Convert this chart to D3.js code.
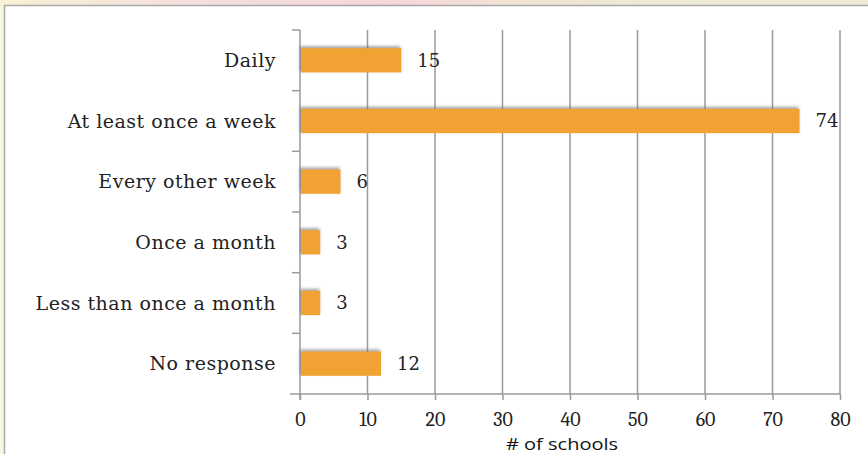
<!DOCTYPE html>
<html>
<head>
<meta charset="utf-8">
<script src="https://cdn.jsdelivr.net/npm/d3@7"></script>
<style>
  html, body { margin: 0; padding: 0; background: #fbf7e4; }
  svg { display: block; }
</style>
</head>
<body>
<svg id="chart" width="868" height="454"></svg>
<script>
// Survey responses: how often schools do the activity
const categories = ["Daily", "At least once a week", "Every other week", "Once a month", "Less than once a month", "No response"];
const counts = [15, 74, 6, 3, 3, 12];
const xTicks = [0, 10, 20, 30, 40, 50, 60, 70, 80];
const xTitle = "# of schools";

const W = 868, H = 454;
const margin = { top: 30, right: 28, bottom: 60, left: 300 };
const svg = d3.select("#chart");

// decorative slide background
const defs = svg.append("defs");
const topGrad = defs.append("linearGradient").attr("id", "topband").attr("x1", 0).attr("x2", 1);
[["0%", "#f7f1d6"], ["25%", "#f3dede"], ["45%", "#f6d6da"], ["60%", "#f1e4d4"], ["80%", "#ecebd6"], ["100%", "#f0e9d4"]]
  .forEach(([o, c]) => topGrad.append("stop").attr("offset", o).attr("stop-color", c));
const shadow = defs.append("filter").attr("id", "barShadow")
  .attr("x", "-10%").attr("y", "-40%").attr("width", "120%").attr("height", "180%");
shadow.append("feDropShadow").attr("dx", -1).attr("dy", -2).attr("stdDeviation", 1.8)
  .attr("flood-color", "#666").attr("flood-opacity", 0.6);

svg.append("rect").attr("x", 0).attr("y", 0).attr("width", W).attr("height", H).attr("fill", "#fbf8e2");
svg.append("rect").attr("x", 0).attr("y", 0).attr("width", W).attr("height", 7).attr("fill", "url(#topband)");
svg.append("rect").attr("x", 4.5).attr("y", 5.5).attr("width", W).attr("height", H)
  .attr("fill", "#ffffff").attr("stroke", "#a9a9a9").attr("stroke-width", 1.5);

const x = d3.scaleLinear().domain([0, 80]).range([margin.left, W - margin.right]);
const y = d3.scaleBand().domain(categories).range([margin.top, H - margin.bottom]).paddingInner(0.6).paddingOuter(0.3);
const yEdges = d3.scaleLinear().domain([0, categories.length]).range([margin.top, H - margin.bottom]);

const serif = "'DejaVu Serif', serif";
const tickFont = "Cambria, 'DejaVu Serif', serif";
const gridColor = "#9a9a9a";

// vertical gridlines
svg.append("g").selectAll("line").data(xTicks.slice(1)).join("line")
  .attr("x1", d => x(d)).attr("x2", d => x(d))
  .attr("y1", margin.top).attr("y2", H - margin.bottom)
  .attr("stroke", gridColor).attr("stroke-width", 1.5);

// x axis
const xAxis = svg.append("g").attr("transform", `translate(0,${H - margin.bottom})`)
  .call(d3.axisBottom(x).tickValues(xTicks).tickSize(6).tickSizeOuter(0).tickPadding(12));
xAxis.select(".domain").remove();
xAxis.append("line").attr("x1", x(0) - 10).attr("x2", x(80)).attr("stroke", gridColor).attr("stroke-width", 1.5);
xAxis.selectAll(".tick line").attr("stroke", gridColor).attr("stroke-width", 1.5);
xAxis.selectAll(".tick text").attr("fill", "#222").attr("font-family", tickFont).attr("font-size", 20);

// y axis line and category separators
const yAxis = svg.append("g");
yAxis.append("line").attr("x1", x(0)).attr("x2", x(0))
  .attr("y1", margin.top).attr("y2", H - margin.bottom + 6)
  .attr("stroke", gridColor).attr("stroke-width", 1.5);
yAxis.selectAll(".sep").data(d3.range(categories.length)).join("line").attr("class", "sep")
  .attr("x1", x(0) - 8).attr("x2", x(0))
  .attr("y1", d => yEdges(d)).attr("y2", d => yEdges(d))
  .attr("stroke", gridColor).attr("stroke-width", 1.5);
yAxis.selectAll("text").data(categories).join("text")
  .attr("x", x(0) - 24).attr("y", d => y(d) + y.bandwidth() / 2)
  .attr("dy", "0.35em").attr("text-anchor", "end")
  .attr("font-family", serif).attr("font-size", 19).attr("letter-spacing", 0.5).attr("fill", "#222")
  .text(d => d);

// bars
const rows = categories.map((c, i) => ({ c, v: counts[i] }));
svg.append("g").selectAll("rect").data(rows).join("rect")
  .attr("x", x(0) + 1).attr("y", d => y(d.c))
  .attr("width", d => x(d.v) - x(0) - 1).attr("height", y.bandwidth())
  .attr("fill", "#f0a232").attr("filter", "url(#barShadow)");

// value labels
svg.append("g").selectAll("text").data(rows).join("text")
  .attr("x", d => x(d.v) + 16).attr("y", d => y(d.c) + y.bandwidth() / 2)
  .attr("dy", "0.35em").attr("font-family", serif).attr("font-size", 18).attr("fill", "#222")
  .text(d => d.v);

// axis title
svg.append("text").attr("x", 562).attr("y", 450).attr("text-anchor", "middle")
  .attr("font-family", "'Open Sans', sans-serif").attr("font-size", 16).attr("fill", "#111")
  .attr("textLength", 112).attr("lengthAdjust", "spacingAndGlyphs")
  .text(xTitle);
</script>
</body>
</html>
